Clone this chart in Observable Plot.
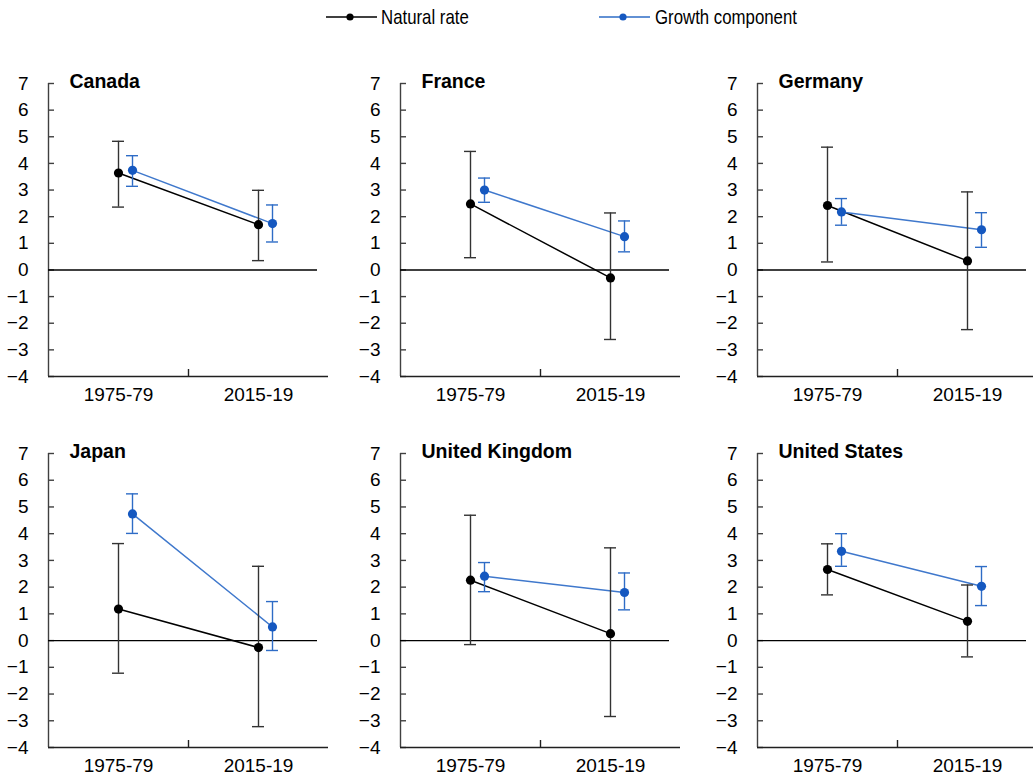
<!DOCTYPE html>
<html>
<head>
<meta charset="utf-8">
<script src="https://cdn.jsdelivr.net/npm/d3@7"></script>
<script src="https://cdn.jsdelivr.net/npm/@observablehq/plot@0.6"></script>
<style>
  body { margin: 0; background: #fff; overflow: hidden; font-family: "Liberation Sans", Arial, sans-serif; }
  #root { position: relative; width: 1033px; height: 778px; overflow: hidden; background: #fff; }
  .legend-item { position: absolute; top: 0; height: 34px; display: flex; align-items: center;
    font-family: "Liberation Sans", Arial, sans-serif;
    font-size: 21px; color: #000; white-space: nowrap; }
  .legend-text { transform: scaleX(0.8); transform-origin: 0 50%; }
  .legend-item svg { display: block; }
</style>
</head>
<body>
<div id="root"></div>
<script>
// ---- Data ----
const countries = ["Canada", "France", "Germany", "Japan", "United Kingdom", "United States"];
const periods = ["1975-79", "2015-19"];
const seriesNames = ["Natural rate", "Growth component"];

// natural rate estimate [1975-79, 2015-19] and its range
const naturalRate = [[3.64, 1.70], [2.48, -0.30], [2.42, 0.34], [1.18, -0.26], [2.26, 0.26], [2.66, 0.72]];
const naturalLow  = [[2.36, 0.35], [0.46, -2.61], [0.30, -2.24], [-1.22, -3.22], [-0.15, -2.84], [1.71, -0.61]];
const naturalHigh = [[4.83, 2.99], [4.45, 2.14], [4.61, 2.93], [3.63, 2.78], [4.69, 3.47], [3.62, 2.08]];

// growth component estimate [1975-79, 2015-19] and its range
const growthRate = [[3.74, 1.74], [3.00, 1.25], [2.18, 1.51], [4.74, 0.51], [2.41, 1.80], [3.34, 2.03]];
const growthLow  = [[3.14, 1.05], [2.54, 0.68], [1.68, 0.85], [4.01, -0.37], [1.83, 1.15], [2.78, 1.31]];
const growthHigh = [[4.29, 2.44], [3.45, 1.84], [2.68, 2.15], [5.49, 1.46], [2.92, 2.53], [4.00, 2.77]];

const yTicks = [-4, -3, -2, -1, 0, 1, 2, 3, 4, 5, 6, 7];

// ---- Styles ----
const lineColor = ["#000000", "#3f78cc"];
const dotColor = ["#000000", "#1558c0"];
const barColor = ["#333333", "#2e6cc6"];
const legendLine = ["#000000", "#2e6cc6"];

// ---- Build table ----
const rows = [];
countries.forEach((c, i) => periods.forEach((p, j) => {
  rows.push({country: c, period: p, series: seriesNames[0], value: naturalRate[i][j], low: naturalLow[i][j], high: naturalHigh[i][j]});
  rows.push({country: c, period: p, series: seriesNames[1], value: growthRate[i][j], low: growthLow[i][j], high: growthHigh[i][j]});
}));

const root = document.getElementById("root");

// ---- Legend ----
const legendPos = [{sw: 326, tx: 381}, {sw: 599, tx: 655}];
seriesNames.forEach((s, k) => {
  const sw = document.createElement("div");
  sw.className = "legend-item";
  sw.style.left = legendPos[k].sw + "px";
  sw.innerHTML = `<svg width="51" height="34"><line x1="0" x2="51" y1="17" y2="17" stroke="${legendLine[k]}" stroke-width="1.5"/><circle cx="24" cy="17" r="3.6" fill="${dotColor[k]}"/></svg>`;
  root.appendChild(sw);
  const tx = document.createElement("div");
  tx.className = "legend-item";
  tx.style.left = legendPos[k].tx + "px";
  const span = document.createElement("span");
  span.className = "legend-text";
  span.textContent = s;
  tx.appendChild(span);
  root.appendChild(tx);
});

// ---- Panels ----
const colLeft = [0, 352, 709];
const rowTop = [40, 410];
const rowHeight = [370, 368];
const rowMarginBottom = [34, 31];
const plotW = 280;
const bandW = plotW / periods.length;   // width of one category band
const halfBand = bandW / 2;
const capHalf = 6;

countries.forEach((c, i) => {
  const r = Math.floor(i / 3), col = i % 3;
  const data = rows.filter(d => d.country === c);
  const nat = data.filter(d => d.series === seriesNames[0]);
  const gro = data.filter(d => d.series === seriesNames[1]);
  const gdx = 14;
  const capInset = halfBand - capHalf;
  const innerH = rowHeight[r] - 43 - rowMarginBottom[r];

  const chart = Plot.plot({
    width: 48 + plotW,
    height: rowHeight[r],
    marginLeft: 48,
    marginRight: 0,
    marginTop: 43,
    marginBottom: rowMarginBottom[r],
    x: {type: "band", domain: periods, padding: 0, axis: null},
    y: {domain: [-4, 7], axis: null},
    style: {fontFamily: '"Liberation Sans", Arial, sans-serif', color: "#000", background: "transparent", overflow: "visible"},
    marks: [
      // y axis labels
      Plot.axisY(yTicks, {tickSize: 0, tickPadding: 20, fontSize: 19, anchor: "left", label: null}),
      // x axis labels
      Plot.axisX(periods, {tickSize: 0, tickPadding: 11, fontSize: 19, anchor: "bottom", label: null}),
      // y axis line and inside ticks
      Plot.tickX([periods[0]], {x: d => d, dx: -halfBand, stroke: "#404040", strokeWidth: 1.4}),
      Plot.tickY(yTicks, {y: d => d, insetRight: plotW - 6, stroke: "#404040", strokeWidth: 1.4}),
      // x axis line and the tick between the categories
      Plot.ruleY([-4], {stroke: "#202020", strokeWidth: 1.4}),
      Plot.tickX([periods[1]], {x: d => d, dx: -halfBand, insetTop: innerH - 7, stroke: "#202020", strokeWidth: 1.4}),
      // zero line
      Plot.ruleY([0], {insetRight: 11, stroke: "#000", strokeWidth: 1.4}),
      // lines
      Plot.line(nat, {x: "period", y: "value", stroke: lineColor[0], strokeWidth: 1.5}),
      Plot.line(gro, {x: "period", y: "value", stroke: lineColor[1], strokeWidth: 1.5, dx: gdx}),
      // error bars
      Plot.ruleX(nat, {x: "period", y1: "low", y2: "high", stroke: barColor[0], strokeWidth: 1.4}),
      Plot.tickY(nat, {x: "period", y: "low", insetLeft: capInset, insetRight: capInset, stroke: barColor[0], strokeWidth: 1.4}),
      Plot.tickY(nat, {x: "period", y: "high", insetLeft: capInset, insetRight: capInset, stroke: barColor[0], strokeWidth: 1.4}),
      Plot.ruleX(gro, {x: "period", y1: "low", y2: "high", stroke: barColor[1], strokeWidth: 1.4, dx: gdx}),
      Plot.tickY(gro, {x: "period", y: "low", insetLeft: capInset, insetRight: capInset, stroke: barColor[1], strokeWidth: 1.4, dx: gdx}),
      Plot.tickY(gro, {x: "period", y: "high", insetLeft: capInset, insetRight: capInset, stroke: barColor[1], strokeWidth: 1.4, dx: gdx}),
      // dots
      Plot.dot(nat, {x: "period", y: "value", r: 4.6, fill: dotColor[0], stroke: "none"}),
      Plot.dot(gro, {x: "period", y: "value", r: 4.6, fill: dotColor[1], stroke: "none", dx: gdx}),
      // panel title
      Plot.text([c], {frameAnchor: "top-left", text: d => d, dx: 21, dy: -2, fontWeight: "bold", fontSize: 19.5, textAnchor: "start", lineAnchor: "middle"})
    ]
  });
  chart.style.position = "absolute";
  chart.style.left = colLeft[col] + "px";
  chart.style.top = rowTop[r] + "px";
  root.appendChild(chart);
});
</script>
</body>
</html>
